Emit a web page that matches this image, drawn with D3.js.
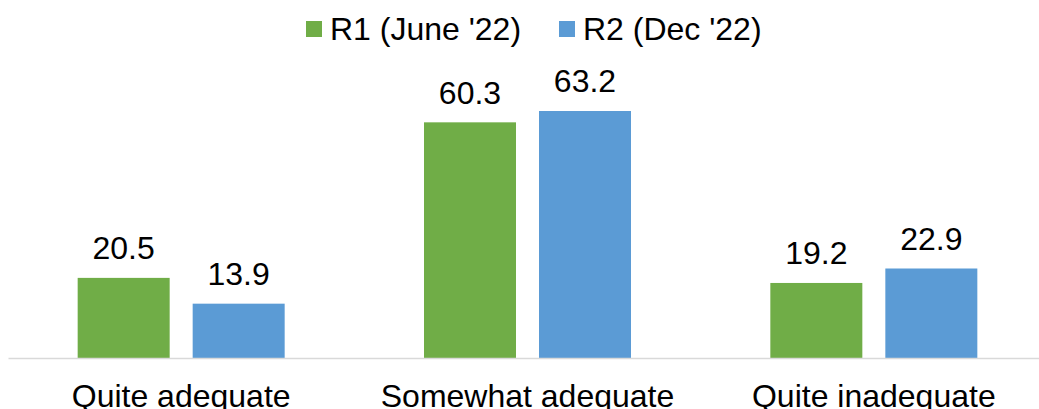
<!DOCTYPE html>
<html>
<head>
<meta charset="utf-8">
<script src="https://cdn.jsdelivr.net/npm/d3@7"></script>
<style>
  body { margin: 0; background: #fff; }
  text { font-family: "Liberation Sans", Arial, sans-serif; fill: #000; }
</style>
</head>
<body>
<svg id="chart" width="1039" height="409"></svg>
<script>
var categories = ["Quite adequate", "Somewhat adequate", "Quite inadequate"]
var seriesNames = ["R1 (June '22)", "R2 (Dec '22)"]
var r1Values = [20.5, 60.3, 19.2]
var r2Values = [13.9, 63.2, 22.9]
var colors = ["#70AD47", "#5B9BD5"]

var width = 1039
var height = 409
var baseY = 358
var fontSize = 32
var squash = "scale(1,0.96)"   // text in the reference is a touch flattened
var svg = d3.select("#chart")

// scales
var xScale = d3.scaleBand()
    .domain(categories)
    .range([8, 1047])

var xInner = d3.scaleBand()
    .domain(seriesNames)
    .range([0, 207])
    .paddingInner(0.2)

var yScale = d3.scaleLinear()
    .domain([0, 63.2])
    .range([baseY, baseY - 247])

var data = categories.map(function (c, i) {
    return { key: c, values: [r1Values[i], r2Values[i]] }
})

// bars
var groups = svg.selectAll(".grp")
    .data(data)
    .enter()
    .append("g")
    .attr("class", "grp")
    .attr("transform", function (d) {
        return "translate(" + (xScale(d.key) + (xScale.bandwidth() - 207) / 2) + ",0)"
    })

groups.selectAll("rect")
    .data(function (d) { return d.values.map(function (v, j) { return { s: seriesNames[j], v: v, j: j } }) })
    .enter()
    .append("rect")
    .attr("x", function (d) { return xInner(d.s) })
    .attr("y", function (d) { return yScale(d.v) })
    .attr("width", xInner.bandwidth())
    .attr("height", function (d) { return baseY - yScale(d.v) })
    .attr("fill", function (d) { return colors[d.j] })

// value labels
groups.selectAll(".val")
    .data(function (d) { return d.values.map(function (v, j) { return { s: seriesNames[j], v: v } }) })
    .enter()
    .append("text")
    .attr("class", "val")
    .attr("transform", function (d) {
        return "translate(" + (xInner(d.s) + xInner.bandwidth() / 2) + "," + (yScale(d.v) - 18.7) + ") " + squash
    })
    .attr("text-anchor", "middle")
    .attr("font-size", fontSize)
    .text(function (d) { return d.v.toFixed(1) })

// x axis
var xAxis = d3.axisBottom(xScale).tickSize(0)
var ax = svg.append("g")
    .attr("transform", "translate(0," + baseY + ")")
    .call(xAxis)
ax.select(".domain").attr("stroke", "#D9D9D9").attr("stroke-width", 1.5)
ax.selectAll(".tick text")
    .attr("y", 0)
    .attr("dy", null)
    .attr("transform", "translate(0,49) " + squash)
    .attr("font-size", fontSize)
    .attr("font-family", "Liberation Sans, Arial, sans-serif")
    .attr("fill", "#000")

// legend
var legendX = [306, 559]
var leg = svg.selectAll(".leg")
    .data(seriesNames)
    .enter()
    .append("g")
    .attr("class", "leg")
    .attr("transform", function (d, i) { return "translate(" + legendX[i] + ",0)" })
leg.append("rect")
    .attr("x", 0)
    .attr("y", 21)
    .attr("width", 16)
    .attr("height", 16)
    .attr("fill", function (d, i) { return colors[i] })
leg.append("text")
    .attr("transform", "translate(24,39.5) " + squash)
    .attr("font-size", fontSize)
    .text(function (d) { return d })
</script>
</body>
</html>
